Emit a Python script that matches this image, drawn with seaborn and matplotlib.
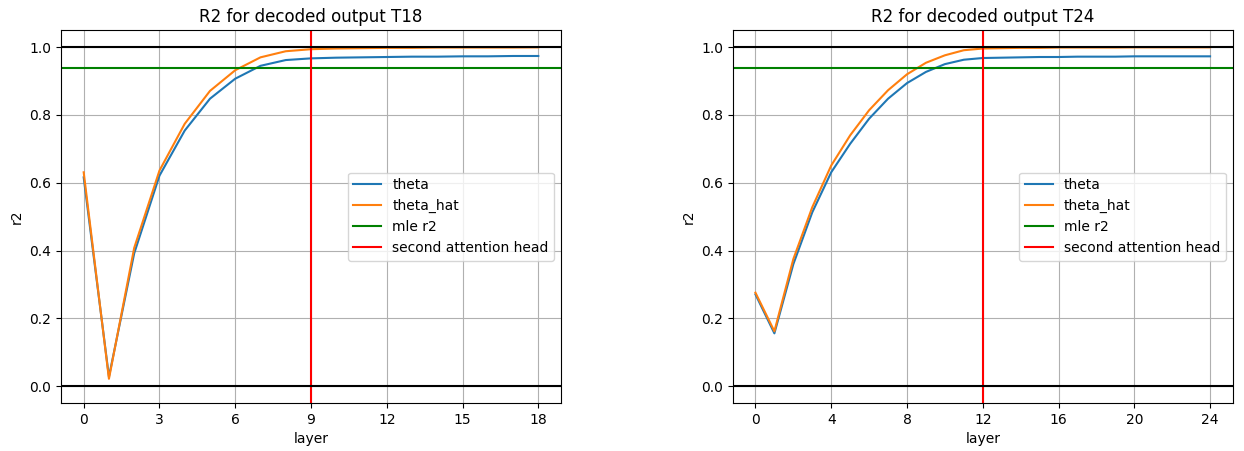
import numpy as np
import matplotlib
matplotlib.use("Agg")
import matplotlib.pyplot as plt
import seaborn as sns
import pandas as pd

# values
layers_t18 = list(range(19))
theta_t18 = [0.616, 0.028, 0.392, 0.621, 0.754, 0.848, 0.907, 0.945, 0.962, 0.967,
             0.969, 0.970, 0.971, 0.972, 0.972, 0.973, 0.973, 0.974, 0.974]
theta_hat_t18 = [0.631, 0.022, 0.408, 0.636, 0.774, 0.871, 0.932, 0.970, 0.988, 0.994,
                 0.996, 0.997, 0.998, 0.998, 0.999, 0.999, 0.999, 0.999, 0.9995]

layers_t24 = list(range(25))
theta_t24 = [0.271, 0.156, 0.360, 0.513, 0.631, 0.715, 0.789, 0.848, 0.894, 0.927,
             0.950, 0.963, 0.968, 0.969, 0.970, 0.971, 0.971, 0.972, 0.972, 0.972,
             0.973, 0.973, 0.973, 0.973, 0.973]
theta_hat_t24 = [0.276, 0.162, 0.375, 0.528, 0.651, 0.740, 0.814, 0.873, 0.920, 0.954,
                 0.976, 0.991, 0.996, 0.997, 0.998, 0.998, 0.999, 0.999, 0.999, 0.999,
                 0.9995, 0.9995, 0.9995, 0.9995, 0.9995]

mle_r2 = 0.938
head_t18 = 9
head_t24 = 12

panels = [
    ("T18", layers_t18, theta_t18, theta_hat_t18, head_t18, [0, 3, 6, 9, 12, 15, 18]),
    ("T24", layers_t24, theta_t24, theta_hat_t24, head_t24, [0, 4, 8, 12, 16, 20, 24]),
]

fig = plt.figure(figsize=(12.44, 4.51), dpi=100)
boxes = [[0.049, 0.106, 0.402, 0.827], [0.589, 0.106, 0.402, 0.827]]

for box, (name, layers, theta, theta_hat, head, ticks) in zip(boxes, panels):
    ax = fig.add_axes(box)
    df = pd.DataFrame({"layer": layers, "theta": theta, "theta_hat": theta_hat})
    sns.lineplot(data=df, x="layer", y="theta", ax=ax, color="tab:blue", label="theta")
    sns.lineplot(data=df, x="layer", y="theta_hat", ax=ax, color="tab:orange", label="theta_hat")
    ax.axhline(mle_r2, color="green", label="mle r2")
    ax.axvline(head, color="red", label="second attention head")
    ax.axhline(1.0, color="black")
    ax.axhline(0.0, color="black")
    ax.set_xticks(ticks)
    ax.set_yticks([0.0, 0.2, 0.4, 0.6, 0.8, 1.0])
    ax.set_ylim(-0.05, 1.05)
    ax.set_xlim(-0.05 * layers[-1], 1.05 * layers[-1])
    ax.grid(True)
    ax.set_xlabel("layer")
    ax.set_ylabel("r2")
    ax.set_title(f"R2 for decoded output {name}")
    ax.legend(loc="center right")

plt.savefig("out.png", dpi=100)
plt.close()
